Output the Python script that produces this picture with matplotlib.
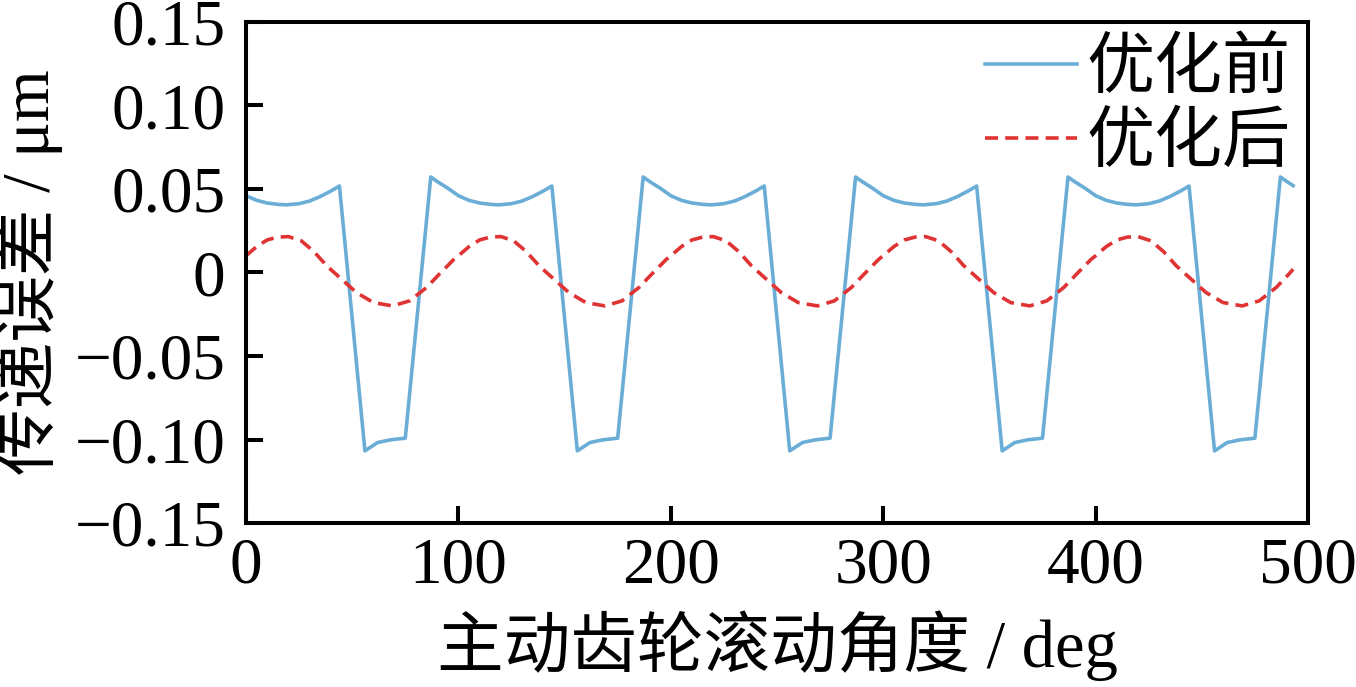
import numpy as np
import matplotlib
matplotlib.use("Agg")
import matplotlib.pyplot as plt

plt.rcParams['font.family'] = ['Liberation Serif', 'Noto Sans CJK SC']
plt.rcParams['axes.unicode_minus'] = True

# ---------------------------------------------------------------------
# Datos
# ---------------------------------------------------------------------
# curva "优化前" (antes de optimizar)
x_antes = [
    0, 5, 10, 15, 19, 25, 30, 35, 40, 44, 56, 62, 68, 75, 87, 90, 95,
    100, 105, 110, 115, 119, 125, 130, 135, 140, 144, 156, 162, 168, 175, 187, 190, 195,
    200, 205, 210, 215, 219, 225, 230, 235, 240, 244, 256, 262, 268, 275, 287, 290, 295,
    300, 305, 310, 315, 319, 325, 330, 335, 340, 344, 356, 362, 368, 375, 387, 390, 395,
    400, 405, 410, 415, 419, 425, 430, 435, 440, 444, 456, 462, 468, 475, 487, 490, 493,
]
y_antes = [
    0.0460, 0.0432, 0.0416, 0.0408, 0.0405, 0.0412, 0.0428, 0.0455, 0.0488, 0.0518,
    -0.1068, -0.1018, -0.1002, -0.0992, 0.0572, 0.0545, 0.0505,
    0.0460, 0.0432, 0.0416, 0.0408, 0.0405, 0.0412, 0.0428, 0.0455, 0.0488, 0.0518,
    -0.1068, -0.1018, -0.1002, -0.0992, 0.0572, 0.0545, 0.0505,
    0.0460, 0.0432, 0.0416, 0.0408, 0.0405, 0.0412, 0.0428, 0.0455, 0.0488, 0.0518,
    -0.1068, -0.1018, -0.1002, -0.0992, 0.0572, 0.0545, 0.0505,
    0.0460, 0.0432, 0.0416, 0.0408, 0.0405, 0.0412, 0.0428, 0.0455, 0.0488, 0.0518,
    -0.1068, -0.1018, -0.1002, -0.0992, 0.0572, 0.0545, 0.0505,
    0.0460, 0.0432, 0.0416, 0.0408, 0.0405, 0.0412, 0.0428, 0.0455, 0.0488, 0.0518,
    -0.1068, -0.1018, -0.1002, -0.0992, 0.0572, 0.0545, 0.0520,
]

# curva "优化后" (despues de optimizar)
x_despues = [
    0, 5, 10, 15, 20, 26, 32, 38, 45, 52, 60, 69, 77, 85, 91, 98,
    100, 105, 110, 115, 120, 126, 132, 138, 145, 152, 160, 169, 177, 185, 191, 198,
    200, 205, 210, 215, 220, 226, 232, 238, 245, 252, 260, 269, 277, 285, 291, 298,
    300, 305, 310, 315, 320, 326, 332, 338, 345, 352, 360, 369, 377, 385, 391, 398,
    400, 405, 410, 415, 420, 426, 432, 438, 445, 452, 460, 469, 477, 485, 491, 493,
]
y_despues = [
    0.0100, 0.0155, 0.0195, 0.0212, 0.0215, 0.0190, 0.0125, 0.0040,
    -0.0040, -0.0120, -0.0180, -0.0200, -0.0170, -0.0090, -0.0010, 0.0080,
    0.0100, 0.0155, 0.0195, 0.0212, 0.0215, 0.0190, 0.0125, 0.0040,
    -0.0040, -0.0120, -0.0180, -0.0200, -0.0170, -0.0090, -0.0010, 0.0080,
    0.0100, 0.0155, 0.0195, 0.0212, 0.0215, 0.0190, 0.0125, 0.0040,
    -0.0040, -0.0120, -0.0180, -0.0200, -0.0170, -0.0090, -0.0010, 0.0080,
    0.0100, 0.0155, 0.0195, 0.0212, 0.0215, 0.0190, 0.0125, 0.0040,
    -0.0040, -0.0120, -0.0180, -0.0200, -0.0170, -0.0090, -0.0010, 0.0080,
    0.0100, 0.0155, 0.0195, 0.0212, 0.0215, 0.0190, 0.0125, 0.0040,
    -0.0040, -0.0120, -0.0180, -0.0200, -0.0170, -0.0090, -0.0010, 0.0020,
]

etiquetas = ["优化前", "优化后"]
xticks = [0, 100, 200, 300, 400, 500]
yticks = [-0.15, -0.10, -0.05, 0, 0.05, 0.10, 0.15]
ytick_labels = ["\u22120.15", "\u22120.10", "\u22120.05", "0", "0.05", "0.10", "0.15"]

# ---------------------------------------------------------------------
# Grafico
# ---------------------------------------------------------------------
fig = plt.figure(figsize=(13.56, 6.87), dpi=100)
ax = fig.add_axes([0.1814, 0.2387, 0.7832, 0.7293])

ax.plot(x_antes, y_antes, color="#6aaed8", lw=2.6, label=etiquetas[0])
ax.plot(x_despues, y_despues, color="#e03434", lw=2.6, ls=(0, (3.6, 2.0)),
        label=etiquetas[1])

ax.set_xlim(0, 500)
ax.set_ylim(-0.15, 0.15)
ax.set_xticks(xticks)
ax.set_yticks(yticks)
ax.set_yticklabels(ytick_labels)

for sp_ in ax.spines.values():
    sp_.set_linewidth(2.9)
ax.tick_params(direction="in", length=12, width=2.9, labelsize=47)
ax.tick_params(axis="x", pad=10)
ax.tick_params(axis="y", pad=15)

ax.set_xlabel("主动齿轮滚动角度 / deg", fontsize=48, labelpad=10)
ax.set_ylabel("传递误差 / μm", fontsize=48, labelpad=8)

ax.legend(loc="upper right", frameon=False, fontsize=49,
          handlelength=1.35, handletextpad=0.15, labelspacing=0.17,
          borderaxespad=0.15, borderpad=0.1)

fig.savefig("out.png", dpi=100)
